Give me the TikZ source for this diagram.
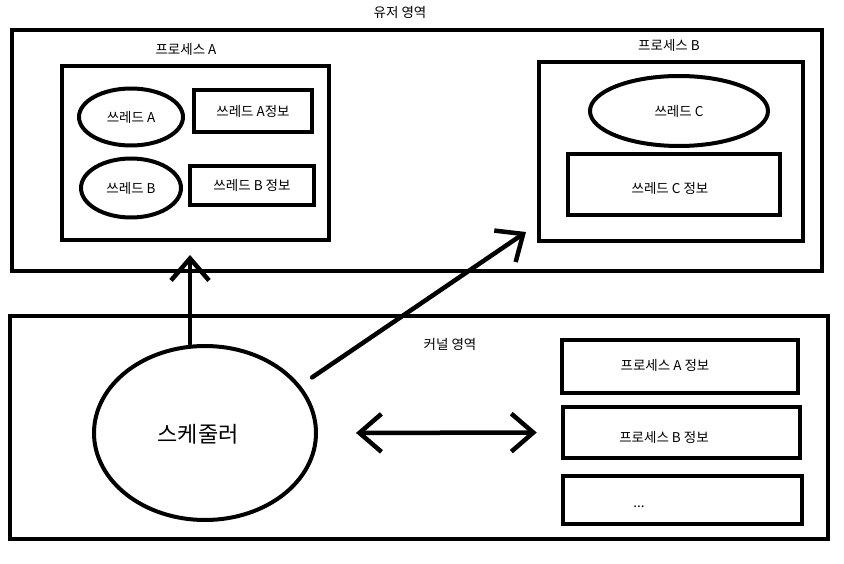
\documentclass[tikz,border=0pt]{standalone}
\usepackage{fontspec}
\setmainfont{Noto Sans CJK KR}
\usetikzlibrary{positioning,arrows.meta,shapes.geometric}

\begin{document}
\begin{tikzpicture}[
  x=1pt,y=-1pt,
  box/.style={draw,line width=4.5pt,inner sep=0pt,font=\fontsize{13.5}{15}\selectfont},
  oval/.style={draw,ellipse,line width=4pt,inner sep=0pt,font=\fontsize{13.5}{15}\selectfont},
  lbl/.style={inner sep=0pt,font=\fontsize{13.5}{15}\selectfont},
  arr/.style={line width=4.5pt,line cap=round,-{Straight Barb[length=22pt,width=38pt]}},
  dbl/.style={line width=4.5pt,line cap=round,{Straight Barb[length=22pt,width=38pt]}-{Straight Barb[length=22pt,width=38pt]}}
]
\useasboundingbox (0,0) rectangle (844,564);

% user area
\node[lbl] (user-t) at (400,12) {유저 영역};
\node[box,minimum width=810pt,minimum height=241pt] (user) at (417,150.5) {};

\node[lbl] (procA-t) at (186,49) {프로세스 A};
\node[box,minimum width=267pt,minimum height=174pt] (procA) at (195.5,153) {};
\node[oval,minimum width=104pt,minimum height=57pt] (ta) at (131,117) {쓰레드 A};
\node[box,minimum width=118pt,minimum height=42pt] (tainfo) at (253,111) {쓰레드 A정보};
\node[oval,minimum width=100pt,minimum height=59pt] (tb) at (131,188) {쓰레드 B};
\node[box,minimum width=124pt,minimum height=39pt] (tbinfo) at (252,185.5) {쓰레드 B 정보};

\node[lbl] (procB-t) at (669,45) {프로세스 B};
\node[box,minimum width=264pt,minimum height=179pt] (procB) at (671,151.5) {};
\node[oval,minimum width=178pt,minimum height=70pt] (tc) at (679,111) {쓰레드 C};
\node[box,minimum width=212pt,minimum height=61pt] (tcinfo) at (674,184.5) {};
\node[lbl] (tcinfo-t) at (670,188) {쓰레드 C 정보};

% kernel area
\node[box,minimum width=818pt,minimum height=223pt] (kernel) at (419,427.5) {};
\node[lbl] (kernel-t) at (450,344) {커널 영역};
\node[oval,minimum width=222pt,minimum height=174pt] (sched) at (205,433) {};
\node[lbl,font=\fontsize{22}{26}\selectfont] (sched-t) at (198,434) {스케줄러};

\node[box,minimum width=236pt,minimum height=53pt] (painfo) at (680,366.5) {};
\node[lbl] (painfo-t) at (665,365) {프로세스 A 정보};
\node[box,minimum width=237pt,minimum height=51pt] (pbinfo) at (681.5,432.5) {};
\node[lbl] (pbinfo-t) at (664,437) {프로세스 B 정보};
\node[box,minimum width=239pt,minimum height=48pt] (etc) at (682.5,500) {};
\node[lbl] (etc-t) at (639,507) {...};

% arrows
\coordinate (atip) at (190,255);
\coordinate (btip) at (526,232);
\draw[arr] (sched.north -| atip) -- (atip);
\draw[arr] ([shift={(16pt,3pt)}]sched.30) -- (btip);
\draw[dbl,shorten <=38pt,shorten >=24pt] (sched.east) -- (pbinfo.west);
\end{tikzpicture}
\end{document}
